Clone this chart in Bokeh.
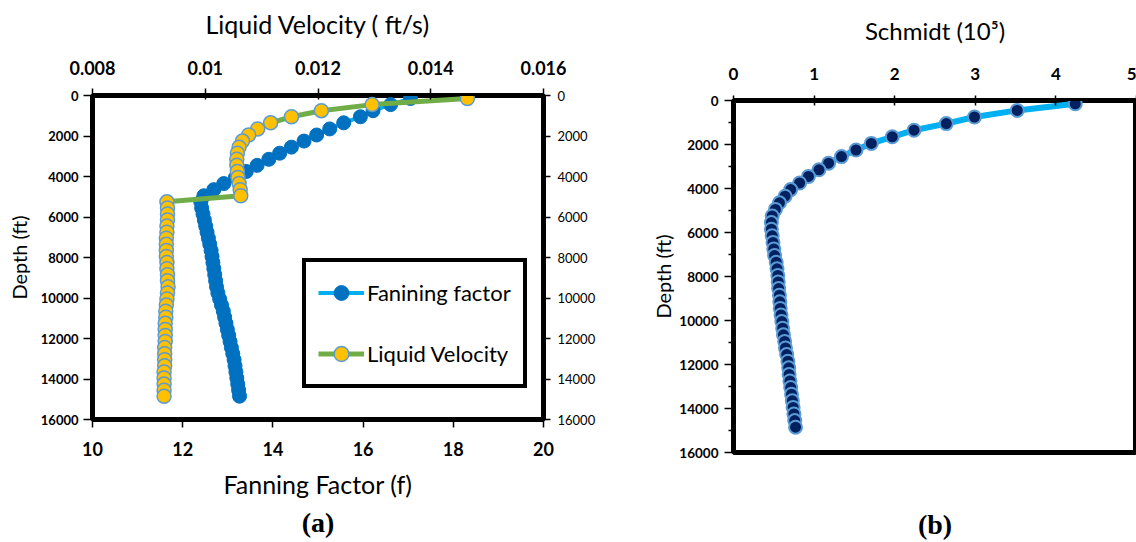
from bokeh.plotting import figure
from bokeh.models import Range1d, LinearAxis, FixedTicker, Legend, LegendItem, Title
from bokeh.layouts import row, column
from bokeh.embed import file_html
from bokeh.resources import INLINE

# ---------------- data ----------------
depth_ft = [150, 450, 750, 1050, 1350, 1650, 1950, 2250, 2550, 2850,
            3150, 3450, 3750, 4050, 4350, 4650, 4950, 5250, 5550, 5850,
            6150, 6450, 6750, 7050, 7350, 7650, 7950, 8250, 8550, 8850,
            9150, 9450, 9750, 10050, 10350, 10650, 10950, 11250, 11550, 11850,
            12150, 12450, 12750, 13050, 13350, 13650, 13950, 14250, 14550, 14850]

fanning_factor = [17.05, 16.61, 16.22, 15.94, 15.57, 15.26, 14.97, 14.69, 14.41, 14.15,
                  13.91, 13.65, 13.41, 13.17, 12.91, 12.69, 12.47, 12.40, 12.42, 12.45,
                  12.48, 12.51, 12.54, 12.57, 12.60, 12.63, 12.65, 12.67, 12.69, 12.71,
                  12.73, 12.75, 12.78, 12.82, 12.86, 12.90, 12.93, 12.96, 12.99, 13.02,
                  13.05, 13.08, 13.11, 13.14, 13.16, 13.18, 13.20, 13.22, 13.24, 13.26]

liquid_velocity = [0.01465, 0.01296, 0.01206, 0.01153, 0.01116, 0.01093, 0.01077, 0.01066, 0.01060, 0.01057,
                   0.01056, 0.01056, 0.01057, 0.01058, 0.01060, 0.01062, 0.01063, 0.00932, 0.00933, 0.00933,
                   0.00933, 0.00932, 0.00932, 0.00931, 0.00931, 0.00931, 0.00931, 0.00932, 0.00932, 0.00933,
                   0.00933, 0.00934, 0.00933, 0.00932, 0.00931, 0.00930, 0.00930, 0.00929, 0.00929, 0.00929,
                   0.00929, 0.00928, 0.00928, 0.00928, 0.00928, 0.00927, 0.00927, 0.00927, 0.00927, 0.00927]

schmidt_1e5 = [4.24, 3.52, 2.99, 2.64, 2.24, 1.97, 1.71, 1.52, 1.34, 1.18,
               1.06, 0.93, 0.82, 0.71, 0.64, 0.57, 0.52, 0.48, 0.47, 0.47,
               0.48, 0.49, 0.50, 0.51, 0.53, 0.54, 0.55, 0.555, 0.56, 0.57,
               0.575, 0.58, 0.59, 0.60, 0.61, 0.62, 0.635, 0.645, 0.66, 0.675,
               0.685, 0.69, 0.70, 0.71, 0.72, 0.73, 0.74, 0.75, 0.76, 0.77]

fanning_ticks = [10, 12, 14, 16, 18, 20]
velocity_ticks = [0.008, 0.01, 0.012, 0.014, 0.016]
velocity_tick_labels = ["0.008", "0.01", "0.012", "0.014", "0.016"]
depth_ticks = [0, 2000, 4000, 6000, 8000, 10000, 12000, 14000, 16000]
depth_minor_ticks = [1000, 3000, 5000, 7000, 9000, 11000, 13000, 15000]
schmidt_ticks = [0, 1, 2, 3, 4, 5]

FONT = "Lato"


def style_axis(ax, size, bold, tick_in, tick_out, standoff, title_size="20px"):
    ax.major_label_text_font = FONT
    ax.major_label_text_font_size = size
    ax.major_label_text_font_style = "bold" if bold else "normal"
    ax.major_label_text_color = "black"
    ax.major_tick_in = tick_in
    ax.major_tick_out = tick_out
    ax.major_tick_line_color = "black"
    ax.major_tick_line_width = 1.5
    ax.minor_tick_line_color = None
    ax.axis_line_color = "black"
    ax.axis_line_width = 1
    ax.major_label_standoff = standoff
    ax.axis_label_text_font = FONT
    ax.axis_label_text_font_style = "normal"
    ax.axis_label_text_font_size = title_size
    ax.axis_label_text_color = "black"


# ---------------- left chart (a) ----------------
left = figure(width=610, height=542, x_range=Range1d(10, 20), y_range=Range1d(16000, 0),
              output_backend="svg", toolbar_location=None,
              min_border_left=92, min_border_right=67, min_border_top=95, min_border_bottom=123,
              background_fill_color="white", border_fill_color="white")
left.extra_x_ranges = {"vel": Range1d(0.008, 0.016)}
left.xgrid.visible = False
left.ygrid.visible = False
left.outline_line_color = "black"
left.outline_line_width = 5

bx = left.xaxis[0]
bx.ticker = FixedTicker(ticks=fanning_ticks)
bx.axis_label = "Fanning Factor (f)"
style_axis(bx, "18px", True, 0, 8, 14, "25px")
bx.axis_label_standoff = 10

ly = left.yaxis[0]
ly.ticker = FixedTicker(ticks=depth_ticks)
ly.axis_label = "Depth (ft)"
style_axis(ly, "13px", True, 0, 9, 5)
ly.axis_label_standoff = 7

top_ax = LinearAxis(x_range_name="vel", ticker=FixedTicker(ticks=velocity_ticks),
                    axis_label="Liquid Velocity ( ft/s)")
top_ax.major_label_overrides = {v: s for v, s in zip(velocity_ticks, velocity_tick_labels)}
style_axis(top_ax, "18px", True, 4, 7, 14, "25px")
top_ax.axis_label_standoff = 19
left.add_layout(top_ax, "above")

ry = LinearAxis(ticker=FixedTicker(ticks=depth_ticks))
style_axis(ry, "13px", False, 0, 7, 7)
left.add_layout(ry, "right")

r1 = left.line(fanning_factor, depth_ft, line_color="#00B0F0", line_width=4)
r2 = left.scatter(fanning_factor, depth_ft, size=14, fill_color="#0070C0",
                  line_color="#0070C0", line_width=1)
r3 = left.line(liquid_velocity, depth_ft, x_range_name="vel", line_color="#70AD47", line_width=5)
r4 = left.scatter(liquid_velocity, depth_ft, x_range_name="vel", size=14, fill_color="#FFC000",
                  line_color="#5B9BD5", line_width=1.5)

legend = Legend(items=[LegendItem(label="Fanining factor", renderers=[r1, r2]),
                       LegendItem(label="Liquid Velocity", renderers=[r3, r4])],
                location=(210, 31), orientation="vertical",
                border_line_color="black", border_line_width=4, border_line_alpha=1,
                background_fill_color="white", background_fill_alpha=1,
                padding=12, spacing=24, margin=0,
                glyph_width=46, glyph_height=37, label_height=37, label_standoff=3,
                label_text_font=FONT, label_text_font_size="22px", label_text_color="black")
left.add_layout(legend)

left.add_layout(Title(text="(a)", align="center", text_font="Liberation Serif",
                      text_font_style="bold", text_font_size="28px", text_color="black",
                      standoff=7), "below")

# ---------------- right chart (b) ----------------
right = figure(width=526, height=542, x_range=Range1d(0, 5), y_range=Range1d(16000, 0),
               output_backend="svg", toolbar_location=None, x_axis_location="above",
               min_border_left=123, min_border_right=0, min_border_top=100, min_border_bottom=90,
               background_fill_color="white", border_fill_color="white")
right.xgrid.visible = False
right.ygrid.visible = False
right.outline_line_color = "black"
right.outline_line_width = 5

tx = right.xaxis[0]
tx.ticker = FixedTicker(ticks=schmidt_ticks)
tx.axis_label = "Schmidt (10\u2075)"
style_axis(tx, "17px", True, 5, 5, 16, "24px")
tx.axis_label_standoff = 20

lyb = right.yaxis[0]
lyb.ticker = FixedTicker(ticks=depth_ticks, minor_ticks=depth_minor_ticks)
lyb.axis_label = "Depth (ft)"
style_axis(lyb, "13.5px", True, 0, 9, 6)
lyb.minor_tick_line_color = "black"
lyb.minor_tick_line_width = 1.5
lyb.minor_tick_in = 0
lyb.minor_tick_out = 5
lyb.axis_label_standoff = 1

# caption "(b)" carried by a bare bottom axis (no ticks, no line)
cap_ax = LinearAxis(ticker=FixedTicker(ticks=[]), axis_label="(b)")
cap_ax.axis_line_color = None
cap_ax.major_tick_line_color = None
cap_ax.minor_tick_line_color = None
cap_ax.major_label_text_font_size = "0px"
cap_ax.major_tick_out = 0
cap_ax.major_label_standoff = 0
cap_ax.axis_label_standoff = 56
cap_ax.axis_label_text_font = "Liberation Serif"
cap_ax.axis_label_text_font_style = "bold"
cap_ax.axis_label_text_font_size = "28px"
cap_ax.axis_label_text_color = "black"
right.add_layout(cap_ax, "below")

right.line(schmidt_1e5, depth_ft, line_color="#00B0F0", line_width=6)
right.scatter(schmidt_1e5, depth_ft, size=13, fill_color="#002060",
              line_color="#5B9BD5", line_width=2)

layout = row(column(left), column(right), spacing=0)
open("out.html", "w").write(file_html(layout, INLINE))
